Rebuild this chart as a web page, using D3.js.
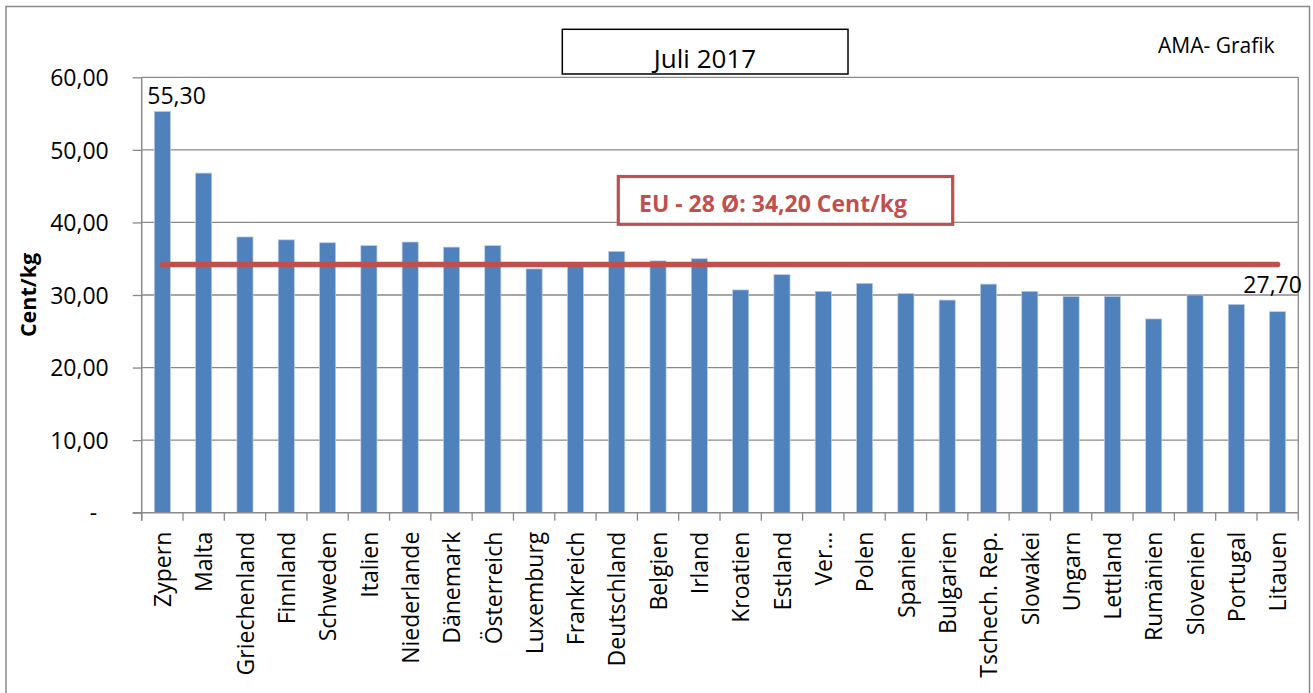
<!DOCTYPE html>
<html>
<head>
<meta charset="utf-8">
<script src="https://cdn.jsdelivr.net/npm/d3@7"></script>
<style>
	body { margin: 0; background: #fff; }
	text { font-family: 'Open Sans', sans-serif; }
</style>
</head>
<body>
<div id="dataviz"></div>
<script>
// values, Cent/kg
const countries = ['Zypern', 'Malta', 'Griechenland', 'Finnland', 'Schweden', 'Italien', 'Niederlande',
	'Dänemark', 'Österreich', 'Luxemburg', 'Frankreich', 'Deutschland', 'Belgien', 'Irland', 'Kroatien',
	'Estland', 'Ver…', 'Polen', 'Spanien', 'Bulgarien', 'Tschech. Rep.', 'Slowakei', 'Ungarn', 'Lettland',
	'Rumänien', 'Slovenien', 'Portugal', 'Litauen'];
const prices = [55.3, 46.8, 38.0, 37.6, 37.2, 36.8, 37.3, 36.6, 36.8, 33.6, 34.3, 36.0, 34.7, 35.0, 30.7,
	32.8, 30.5, 31.6, 30.2, 29.3, 31.5, 30.5, 29.8, 29.8, 26.7, 30.0, 28.7, 27.7];
const euAverage = 34.2;
const yTicks = [0, 10, 20, 30, 40, 50, 60];
const labelledBars = ['Zypern', 'Litauen'];
const chartTitle = 'Juli 2017';
const sourceNote = 'AMA- Grafik';
const avgNote = 'EU - 28 Ø: 34,20 Cent/kg';
const yTitle = 'Cent/kg';

window.onload = function() {

	const data = countries.map((c, i) => ({ name: c, value: prices[i] }));

	const width = 1313;
	const height = 693;
	const plot = { left: 141.7, right: 1298.3, top: 77.3, bottom: 512.7 };
	const grey = '#898989';
	const red = '#c0504d';

	const de = d3.formatLocale({ decimal: ',', thousands: '.', grouping: [3], currency: ['', ' €'] });
	const fmt = de.format('.2f');

	const svg = d3.select('#dataviz')
		.append('svg')
		.attr('width', width)
		.attr('height', height)

	// outer chart frame
	svg.append('rect')
		.attr('x', 6)
		.attr('y', 6.5)
		.attr('width', 1303.5)
		.attr('height', 690)
		.attr('fill', 'none')
		.attr('stroke', grey)
		.attr('stroke-width', 1.5)

	const xScale = d3.scaleBand()
		.domain(countries)
		.range([plot.left, plot.right])
		.paddingInner(0.61)
		.paddingOuter(0.305)

	const yScale = d3.scaleLinear()
		.domain([0, 60])
		.range([plot.bottom, plot.top])

	// gridlines
	svg.append('g')
		.selectAll('line')
		.data(yTicks.slice(1))
		.enter()
		.append('line')
		.attr('x1', plot.left)
		.attr('x2', plot.right)
		.attr('y1', d => yScale(d))
		.attr('y2', d => yScale(d))
		.attr('stroke', grey)
		.attr('stroke-width', 1.3)

	// right border of plot area
	svg.append('line')
		.attr('x1', plot.right)
		.attr('x2', plot.right)
		.attr('y1', plot.top)
		.attr('y2', plot.bottom)
		.attr('stroke', grey)
		.attr('stroke-width', 1.3)

	// y axis
	const yAxis = d3.axisLeft()
		.scale(yScale)
		.tickValues(yTicks)
		.tickSize(9)
		.tickPadding(24)
		.tickFormat(d => d === 0 ? '-' : fmt(d))

	const yAxisG = svg.append('g')
		.attr('id', 'yAxisG')
		.attr('transform', `translate(${plot.left}, 0)`)
		.call(yAxis)

	yAxisG.select('.domain').remove()
	yAxisG.selectAll('line').attr('stroke', grey).attr('stroke-width', 1.3)
	yAxisG.selectAll('text')
		.attr('font-size', 23)
		.attr('fill', '#000')
		.attr('dy', '0.36em')
		.attr('dx', d => d === 0 ? -11.5 : 0)

	svg.append('line')
		.attr('x1', plot.left)
		.attr('x2', plot.left)
		.attr('y1', plot.top)
		.attr('y2', plot.bottom + 8)
		.attr('stroke', grey)
		.attr('stroke-width', 1.5)

	// bars
	svg.selectAll('rect.bar')
		.data(data)
		.enter()
		.append('rect')
		.attr('class', 'bar')
		.attr('x', d => xScale(d.name))
		.attr('y', d => yScale(d.value))
		.attr('width', xScale.bandwidth())
		.attr('height', d => yScale(0) - yScale(d.value))
		.attr('fill', '#4f81bd')
		.attr('stroke', '#b9cce4')
		.attr('stroke-width', 0.7)

	// x axis with ticks between categories
	const step = xScale.step();
	svg.append('line')
		.attr('x1', plot.left - 9)
		.attr('x2', plot.right)
		.attr('y1', plot.bottom)
		.attr('y2', plot.bottom)
		.attr('stroke', grey)
		.attr('stroke-width', 1.5)

	svg.append('g')
		.selectAll('line')
		.data(d3.range(countries.length + 1))
		.enter()
		.append('line')
		.attr('x1', i => plot.left + i * step)
		.attr('x2', i => plot.left + i * step)
		.attr('y1', plot.bottom)
		.attr('y2', plot.bottom + 8)
		.attr('stroke', grey)
		.attr('stroke-width', 1.3)

	svg.append('g')
		.selectAll('text')
		.data(countries)
		.enter()
		.append('text')
		.attr('transform', d => `translate(${xScale(d) + xScale.bandwidth() / 2}, ${plot.bottom + 19}) rotate(-90)`)
		.attr('text-anchor', 'end')
		.attr('dy', '0.38em')
		.attr('font-size', 23)
		.text(d => d)

	// EU average line
	svg.append('line')
		.attr('x1', xScale(countries[0]) + xScale.bandwidth() / 2)
		.attr('x2', xScale(countries[countries.length - 1]) + xScale.bandwidth() / 2)
		.attr('y1', yScale(euAverage))
		.attr('y2', yScale(euAverage))
		.attr('stroke', red)
		.attr('stroke-width', 5.5)
		.attr('stroke-linecap', 'round')

	// value labels on first and last bar
	svg.selectAll('text.value')
		.data(data.filter(d => labelledBars.includes(d.name)))
		.enter()
		.append('text')
		.attr('class', 'value')
		.attr('x', d => d.name === 'Zypern' ? xScale(d.name) - 7 : xScale(d.name) + xScale.bandwidth() / 2 - 5)
		.attr('y', d => d.name === 'Zypern' ? yScale(d.value) - 7 : yScale(d.value) - 19)
		.attr('text-anchor', d => d.name === 'Zypern' ? 'start' : 'middle')
		.attr('font-size', 23)
		.text(d => fmt(d.value))

	// title box
	svg.append('rect')
		.attr('x', 562.3)
		.attr('y', 29.3)
		.attr('width', 285.7)
		.attr('height', 44.7)
		.attr('fill', '#fff')
		.attr('stroke', '#000')
		.attr('stroke-width', 1.5)

	svg.append('text')
		.attr('x', 705)
		.attr('y', 68.3)
		.attr('text-anchor', 'middle')
		.attr('font-size', 26)
		.text(chartTitle)

	svg.append('text')
		.attr('x', 1158)
		.attr('y', 52.7)
		.attr('font-family', "'Liberation Sans', Arial, sans-serif")
		.attr('font-size', 21)
		.text(sourceNote)

	// average annotation
	svg.append('rect')
		.attr('x', 618.3)
		.attr('y', 176.5)
		.attr('width', 334.4)
		.attr('height', 47.8)
		.attr('fill', '#fff')
		.attr('stroke', red)
		.attr('stroke-width', 3.2)

	svg.append('text')
		.attr('x', 639)
		.attr('y', 211.7)
		.attr('font-size', 23)
		.attr('font-weight', 'bold')
		.attr('fill', red)
		.text(avgNote)

	// y axis title
	svg.append('text')
		.attr('transform', 'translate(36, 295) rotate(-90)')
		.attr('text-anchor', 'middle')
		.attr('font-size', 21.5)
		.attr('font-weight', 'bold')
		.text(yTitle)
}
</script>
</body>
</html>
